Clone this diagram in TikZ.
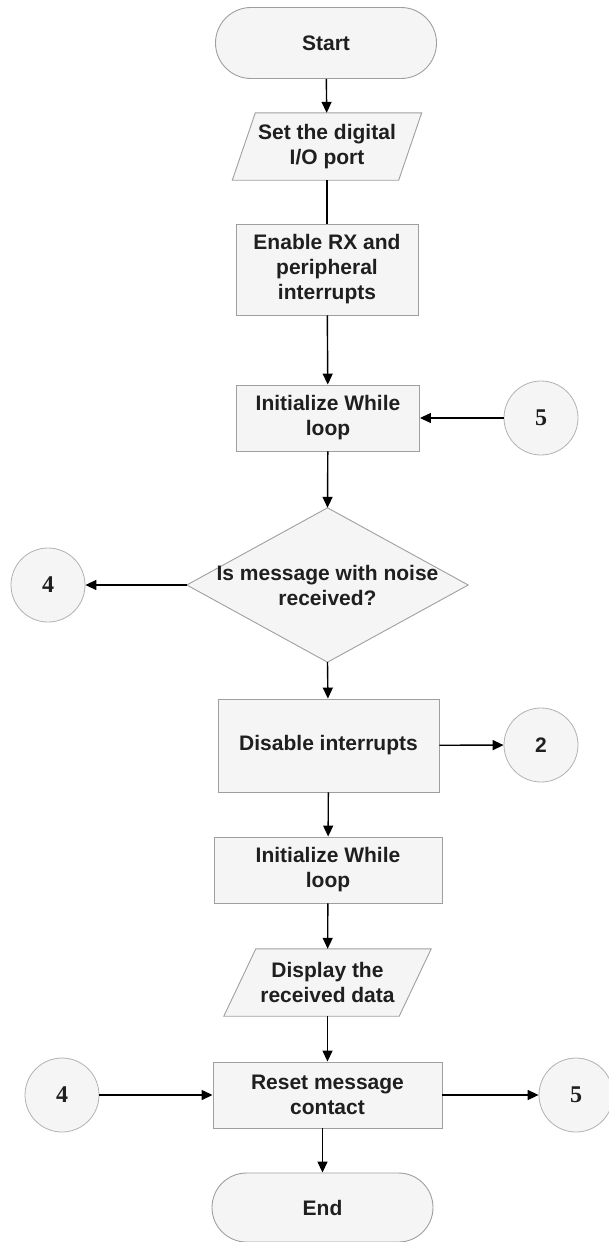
\documentclass[tikz,border=0pt]{standalone}
\usepackage{fontspec}
\setmainfont{Liberation Sans}
\newfontfamily\numfont{Liberation Serif}
\usetikzlibrary{shapes.misc,arrows.meta,backgrounds}
\begin{document}
\begin{tikzpicture}[x=1pt,y=-1pt,
 every node/.style={font=\fontsize{21}{25}\selectfont\bfseries, text=black!88},
 box/.style={draw=gray!75, fill=gray!8, line width=0.9pt, align=center, inner sep=0pt},
 term/.style={box, rounded rectangle},
 conn/.style={circle, draw=gray!60, fill=gray!8, line width=0.8pt, minimum size=74pt, inner sep=0pt},
 digit/.style={font=\fontsize{24}{28}\selectfont\bfseries\numfont},
 ghost/.style={align=center, inner sep=0pt},
 shapefill/.style={draw=gray!75, fill=gray!8, line width=0.9pt},
 arr/.style={line width=1.4pt, -{Triangle[length=11pt,width=10pt]}},
 ln/.style={line width=1.4pt}]
\useasboundingbox (0,0) rectangle (608,1242);

\node[term, minimum width=221pt, minimum height=71pt] (start) at (326,43) {Start};
\node[ghost, minimum width=166pt, minimum height=67pt] (set) at (327,146.5) {Set the digital\\I/O port};
\node[box, minimum width=182pt, minimum height=91pt] (enable) at (327,269.5) {Enable RX and\\peripheral\\interrupts};
\node[box, minimum width=183pt, minimum height=66pt] (init1) at (328,418) {Initialize While\\loop};
\node[conn, digit] (c5a) at (541,418) {5};
\node[ghost, minimum width=281pt, minimum height=154pt] (dec) at (327.5,585) {Is message with noise\\received?};
\node[conn, digit] (c4a) at (48,585) {4};
\node[box, minimum width=221pt, minimum height=93pt] (disable) at (328.5,745.5) {Disable interrupts};
\node[conn] (c2) at (541,745) {2};
\node[box, minimum width=228pt, minimum height=66pt] (init2) at (328,870) {Initialize While\\loop};
\node[ghost, minimum width=175pt, minimum height=67pt] (display) at (327.5,982.5) {Display the\\received data};
\node[box, minimum width=229pt, minimum height=66pt] (reset) at (327.5,1095) {Reset message\\contact};
\node[conn, digit] (c4b) at (62,1095) {4};
\node[conn, digit] (c5b) at (576,1095) {5};
\node[term, minimum width=221pt, minimum height=69pt] (end) at (322.5,1207.5) {End};

\begin{scope}[on background layer]
\draw[shapefill] ([xshift=11.5pt]set.north west) -- ([xshift=11.5pt]set.north east) -- ([xshift=-11.5pt]set.south east) -- ([xshift=-11.5pt]set.south west) -- cycle;
\draw[shapefill] ([xshift=16pt]display.north west) -- ([xshift=16pt]display.north east) -- ([xshift=-16pt]display.south east) -- ([xshift=-16pt]display.south west) -- cycle;
\draw[shapefill] (dec.north) -- (dec.east) -- (dec.south) -- (dec.west) -- cycle;
\end{scope}

\draw[arr] (start) -- (set);
\draw[ln] (set) -- (enable);
\draw[arr] (enable) -- (init1);
\draw[arr] (c5a) -- (init1);
\draw[arr] (init1) -- (dec.north);
\draw[arr] (dec.west) -- (c4a);
\draw[arr] (dec.south) -- (disable);
\draw[arr] (disable) -- (c2);
\draw[arr] (disable) -- (init2);
\draw[arr] (init2) -- (display);
\draw[arr] (display) -- (reset);
\draw[arr] (c4b) -- (reset);
\draw[arr] (reset) -- (c5b);
\draw[arr] (end.north |- reset.south) -- (end.north);
\end{tikzpicture}
\end{document}
